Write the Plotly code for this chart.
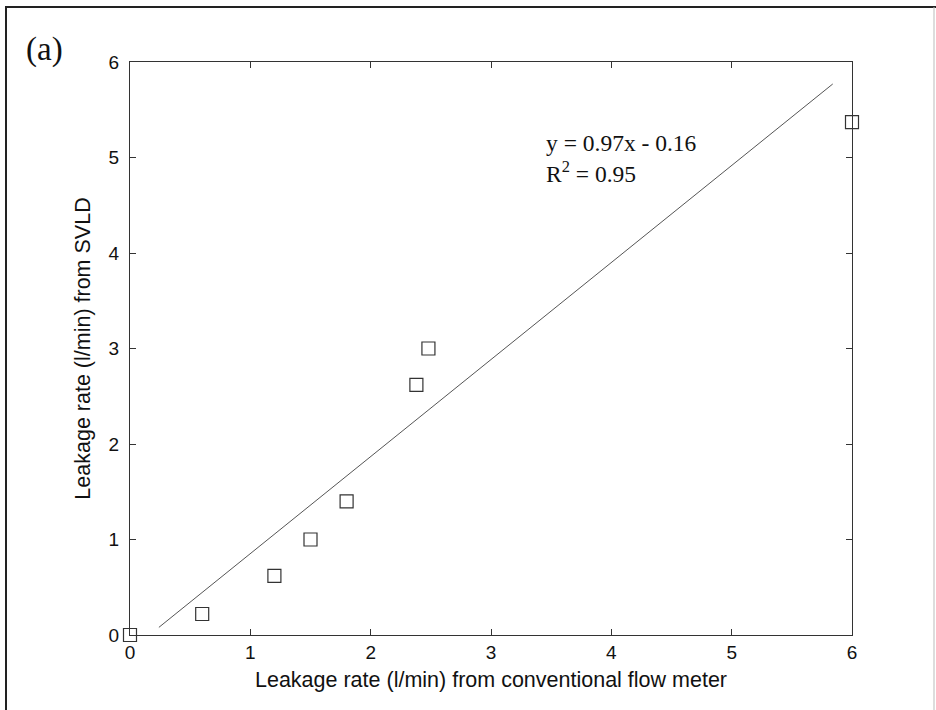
import plotly.graph_objects as go

# measured data (l/min)
flow_meter = [0.0, 0.6, 1.2, 1.5, 1.8, 2.38, 2.48, 6.0]
svld = [0.0, 0.22, 0.62, 1.0, 1.4, 2.62, 3.0, 5.37]

# fitted line as drawn (endpoints)
fit_x = [0.24, 5.84]
fit_y = [0.08, 5.77]

x_ticks = [0, 1, 2, 3, 4, 5, 6]
y_ticks = [0, 1, 2, 3, 4, 5, 6]

W, H = 936, 710
PL, PR, PT, PB = 130, 852, 62, 635

def px(x):
    return (x - PL) / (PR - PL)

def py(y):
    return (PB - y) / (PB - PT)

fig = go.Figure()
fig.add_trace(go.Scatter(x=fit_x, y=fit_y, mode="lines",
                         line=dict(color="#555555", width=1), showlegend=False))
fig.add_trace(go.Scatter(x=flow_meter, y=svld, mode="markers",
                         marker=dict(symbol="square-open", size=13,
                                     color="#333333", line=dict(width=1.2)),
                         cliponaxis=False, showlegend=False))

axis_common = dict(range=[0, 6], showgrid=False, zeroline=False,
                   showline=True, linecolor="#333333", linewidth=1,
                   mirror="ticks", ticks="inside", ticklen=6,
                   tickcolor="#333333",
                   tickfont=dict(family="Liberation Sans, Arial", size=19, color="#111111"))

fig.update_xaxes(tickvals=x_ticks, ticktext=[str(v) for v in x_ticks],
                 title=dict(text="Leakage rate (l/min) from conventional flow meter",
                            font=dict(family="Liberation Sans, Arial", size=21.5, color="#111111"),
                            standoff=10),
                 **axis_common)
fig.update_yaxes(tickvals=y_ticks, ticktext=[str(v) for v in y_ticks],
                 ticklabelstandoff=6,
                 title=dict(text="Leakage rate (l/min) from SVLD",
                            font=dict(family="Liberation Sans, Arial", size=21.5, color="#111111"),
                            standoff=12),
                 **axis_common)

fig.add_annotation(x=px(544), y=py(143), xref="paper", yref="paper",
                   xanchor="left", yanchor="middle",
                   text="y = 0.97x - 0.16", showarrow=False,
                   font=dict(family="Liberation Serif, Times New Roman", size=23.5, color="#111111"))
fig.add_annotation(x=px(544), y=py(172), xref="paper", yref="paper",
                   xanchor="left", yanchor="middle",
                   text="R<sup>2</sup> = 0.95", showarrow=False,
                   font=dict(family="Liberation Serif, Times New Roman", size=23.5, color="#111111"))
fig.add_annotation(x=px(24), y=py(50), xref="paper", yref="paper", showarrow=False,
                   text="(a)", xanchor="left", yanchor="middle",
                   font=dict(family="Liberation Serif, Times New Roman", size=33, color="#111111"))

# outer frame
fig.add_shape(type="line", xref="paper", yref="paper",
              x0=px(5), x1=px(936), y0=py(7), y1=py(7),
              line=dict(color="#222222", width=2))
fig.add_shape(type="line", xref="paper", yref="paper",
              x0=px(6), x1=px(6), y0=py(6), y1=py(712),
              line=dict(color="#222222", width=2))
fig.add_shape(type="line", xref="paper", yref="paper",
              x0=px(934), x1=px(934), y0=py(7), y1=py(712),
              line=dict(color="#bbbbbb", width=1))

fig.update_layout(width=W, height=H,
                  margin=dict(l=PL, r=W - PR, t=PT, b=H - PB),
                  plot_bgcolor="white", paper_bgcolor="white")

fig.write_html("out.html", config={"displayModeBar": False},
               post_script="document.body.style.margin='0';")
